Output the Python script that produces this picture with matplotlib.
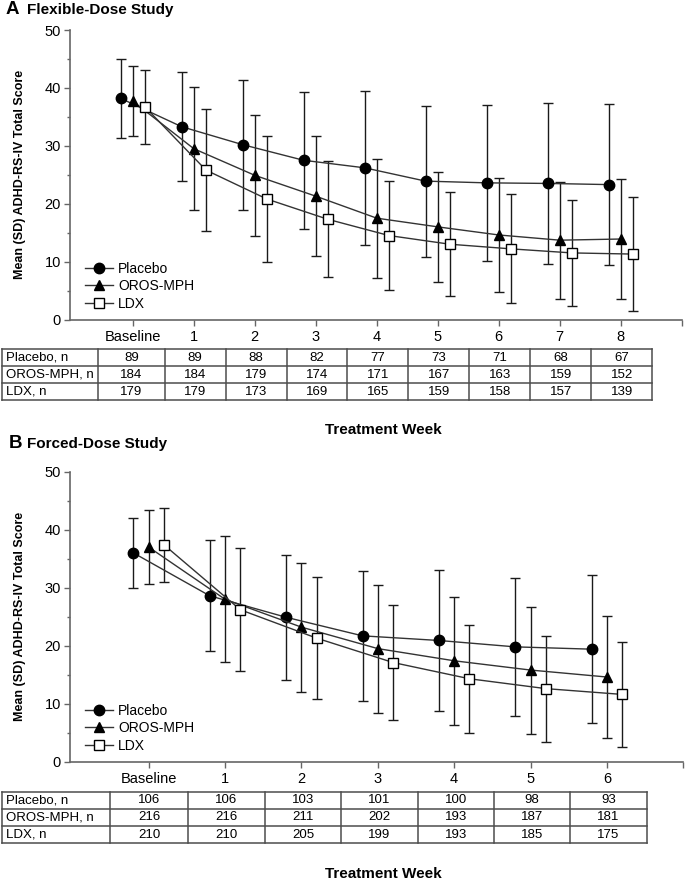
import matplotlib
matplotlib.use('Agg')
import matplotlib.pyplot as plt
from matplotlib import font_manager
import numpy as np

plt.rcParams['font.family'] = ['Liberation Sans', 'DejaVu Sans']
installed = {f.name for f in font_manager.fontManager.ttflist}
narrow = 'Liberation Sans Narrow' if 'Liberation Sans Narrow' in installed else 'Liberation Sans'

groups = ['Placebo', 'OROS-MPH', 'LDX']

# Panel A - flexible-dose study
weeks_a = ['Baseline', '1', '2', '3', '4', '5', '6', '7', '8']
placebo_mean_a = [38.2, 33.3, 30.2, 27.5, 26.2, 23.9, 23.6, 23.5, 23.3]
placebo_sd_a = [6.85, 9.4, 11.25, 11.8, 13.25, 13.05, 13.45, 13.9, 13.95]
oros_mean_a = [37.7, 29.5, 24.9, 21.3, 17.5, 16.0, 14.6, 13.7, 13.9]
oros_sd_a = [6.0, 10.65, 10.45, 10.35, 10.3, 9.55, 9.9, 10.1, 10.3]
ldx_mean_a = [36.7, 25.8, 20.8, 17.3, 14.5, 13.0, 12.2, 11.5, 11.3]
ldx_sd_a = [6.35, 10.55, 10.85, 10.0, 9.35, 8.95, 9.4, 9.1, 9.8]
placebo_n_a = [89, 89, 88, 82, 77, 73, 71, 68, 67]
oros_n_a = [184, 184, 179, 174, 171, 167, 163, 159, 152]
ldx_n_a = [179, 179, 173, 169, 165, 159, 158, 157, 139]

# Panel B - forced-dose study
weeks_b = ['Baseline', '1', '2', '3', '4', '5', '6']
placebo_mean_b = [36.0, 28.6, 24.9, 21.7, 20.9, 19.8, 19.4]
placebo_sd_b = [6.0, 9.55, 10.75, 11.2, 12.1, 11.95, 12.75]
oros_mean_b = [37.0, 28.0, 23.2, 19.5, 17.4, 15.8, 14.6]
oros_sd_b = [6.4, 10.85, 11.1, 11.05, 11.05, 10.95, 10.55]
ldx_mean_b = [37.4, 26.2, 21.3, 17.1, 14.3, 12.6, 11.6]
ldx_sd_b = [6.4, 10.6, 10.55, 9.9, 9.35, 9.15, 9.05]
placebo_n_b = [106, 106, 103, 101, 100, 98, 93]
oros_n_b = [216, 216, 211, 202, 193, 187, 181]
ldx_n_b = [210, 210, 205, 199, 193, 185, 175]

W, H = 685, 886
fig = plt.figure(figsize=(W / 100, H / 100), dpi=100)


def px_rect(left, top, right, bottom):
    return [left / W, 1 - bottom / H, (right - left) / W, (bottom - top) / H]


def draw_panel(rect, weeks, means, sds, legend_top):
    ax = fig.add_axes(rect)
    n = len(weeks)
    x = np.arange(n)
    offsets = [-0.2, 0.0, 0.2]
    styles = [('o', 'black', 7.5), ('^', 'black', 7.5), ('s', 'white', 7)]
    for g, m, s, off, (mk, fc, ms) in zip(groups, means, sds, offsets, styles):
        ax.errorbar(x + off, m, yerr=s, fmt='none', ecolor='#1a1a1a',
                    elinewidth=1, capsize=3.5, capthick=1, zorder=2)
        ax.plot(x + off, m, color='#333333', lw=1, marker=mk, markersize=ms,
                mfc=fc, mec='black', mew=1, label=g, zorder=3)

    ax.set_xlim(-1.03, n)
    ax.set_ylim(0, 50)
    ax.set_xticks(range(n + 1))
    ax.set_xticklabels(weeks + [''])
    ax.set_yticks(range(0, 51, 10))
    ax.set_yticks(range(5, 50, 10), minor=True)
    for side in ['top', 'right']:
        ax.spines[side].set_visible(False)
    for side in ['left', 'bottom']:
        ax.spines[side].set_color('#666666')
        ax.spines[side].set_linewidth(1.2)
    ax.tick_params(axis='both', which='major', length=4, width=1, color='#666666',
                   labelsize=10.5, pad=2.5)
    ax.tick_params(axis='x', which='major', pad=3.5)
    ax.tick_params(axis='y', which='minor', length=2.5, width=1, color='#666666')
    ax.set_ylabel('Mean (SD) ADHD-RS-IV Total Score', fontsize=9,
                  fontweight='bold', va='center')
    ax.yaxis.set_label_coords(-50 / (rect[2] * W), 0.5)

    ax.legend(loc='upper left', bbox_to_anchor=(15 / (rect[2] * W), legend_top),
              frameon=False, prop={'family': narrow, 'size': 10},
              handlelength=2.0, handletextpad=0.4, labelspacing=0.25,
              borderpad=0, borderaxespad=0, numpoints=1)
    return ax


def draw_table(ax, rect, counts, top, bottom, label_end):
    x0, x1 = ax.get_xlim()
    scale = (x1 - x0) / rect[2]
    xt0 = x0 - rect[0] * scale
    axt = fig.add_axes([0, 1 - bottom / H, 1, (bottom - top) / H])
    axt.set_xlim(xt0, xt0 + scale)
    axt.set_ylim(3, 0)
    axt.axis('off')

    n = len(counts[0])
    left = xt0 + 2 / W * scale
    first = xt0 + label_end / W * scale
    bounds = [left, first] + [i + 0.52 for i in range(n)]
    lc = '#4d4d4d'
    for r in range(4):
        axt.plot([bounds[0], bounds[-1]], [r, r], color=lc, lw=1.1, clip_on=False)
    for b in bounds:
        axt.plot([b, b], [0, 3], color=lc, lw=1.1, clip_on=False)

    for r, (g, row) in enumerate(zip(groups, counts)):
        axt.text(xt0 + 6 / W * scale, r + 0.5, f'{g}, n', ha='left', va='center',
                 family=narrow, fontsize=9.5)
        for i, v in enumerate(row):
            cx = (bounds[i + 1] + bounds[i + 2]) / 2
            axt.text(cx, r + 0.5, str(v), ha='center', va='center',
                     family=narrow, fontsize=9.5)


rect_a = px_rect(70, 30, 681.7, 319.5)
ax_a = draw_panel(rect_a, weeks_a,
                  [placebo_mean_a, oros_mean_a, ldx_mean_a],
                  [placebo_sd_a, oros_sd_a, ldx_sd_a], 0.2)
draw_table(ax_a, rect_a, [placebo_n_a, oros_n_a, ldx_n_a], 349.3, 400, 98)

rect_b = px_rect(70, 471.7, 683.3, 761.7)
ax_b = draw_panel(rect_b, weeks_b,
                  [placebo_mean_b, oros_mean_b, ldx_mean_b],
                  [placebo_sd_b, oros_sd_b, ldx_sd_b], 0.2)
draw_table(ax_b, rect_b, [placebo_n_b, oros_n_b, ldx_n_b], 791.7, 843.3, 110)

# Panel titles and shared axis titles
fig.text(6 / W, 1 - 10 / H, 'A', fontsize=13.5, fontweight='bold', va='center')
fig.text(27 / W, 1 - 10 / H, 'Flexible-Dose Study', fontsize=11, fontweight='bold', va='center')
fig.text(9 / W, 1 - 444 / H, 'B', fontsize=13.5, fontweight='bold', va='center')
fig.text(27 / W, 1 - 444 / H, 'Forced-Dose Study', fontsize=11, fontweight='bold', va='center')
fig.text(383 / W, 1 - 430 / H, 'Treatment Week', fontsize=11, fontweight='bold',
         ha='center', va='center')
fig.text(383 / W, 1 - 874 / H, 'Treatment Week', fontsize=11, fontweight='bold',
         ha='center', va='center')

fig.savefig('out.png', dpi=100)
